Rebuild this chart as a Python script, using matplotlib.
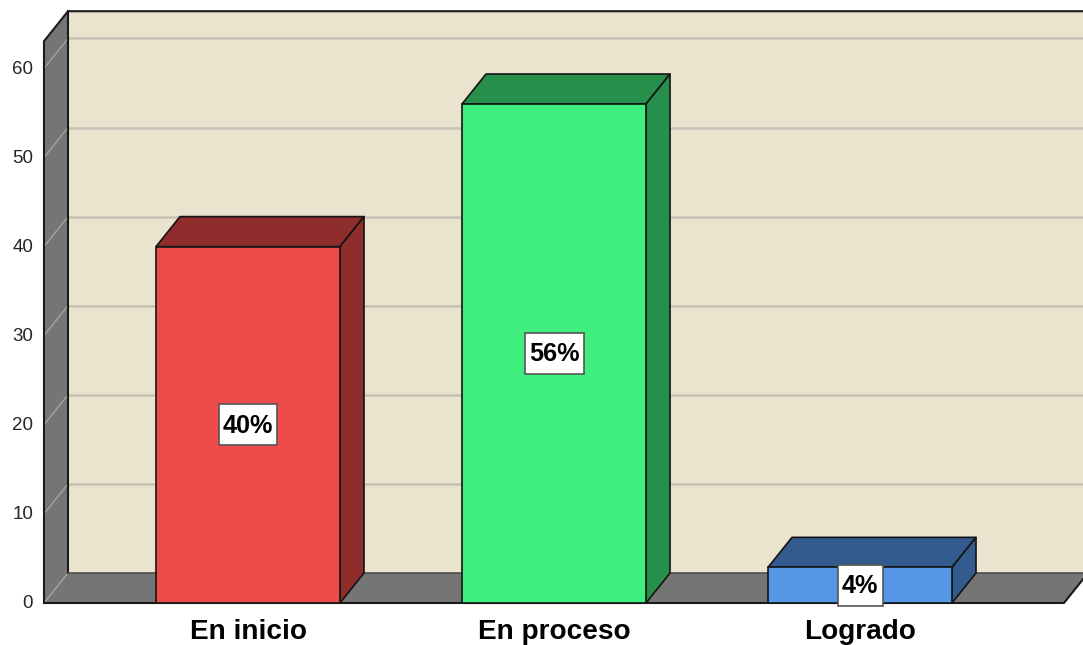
import matplotlib
matplotlib.use("Agg")
import matplotlib.pyplot as plt
from matplotlib.patches import Polygon, Rectangle

plt.rcParams['font.family'] = ['Liberation Sans', 'DejaVu Sans']

categorias = ["En inicio", "En proceso", "Logrado"]
valores = [40, 56, 4]
etiquetas = ["40%", "56%", "4%"]
caja_px = [58, 59, 45]  # label box widths
ticks = [0, 10, 20, 30, 40, 50, 60]

frente = ["#ee4b4b", "#40ee7e", "#5596e6"]
oscuro = ["#8f2c2c", "#268f4c", "#345b8d"]

# pixel scale of the original picture
W, H = 1083, 645
px_x = 306.0       # px per category
px_y = 8.91        # px per unit
x0_px, y0_px = 248.0, 603.0
dx = 24 / px_x     # depth of the 3d effect
dy = 30 / px_y
ancho = 184 / px_x

def X(px):
    return (px - x0_px) / px_x

fig = plt.figure(figsize=(W / 100, H / 100), dpi=100, facecolor="white")
ax = fig.add_axes([0, 0, 1, 1])
ax.set_xlim(X(0), X(W))
ax.set_ylim((y0_px - H) / px_y, y0_px / px_y)
ax.axis("off")

izq = X(44)
der = X(1064)
techo = 63.05   # top of the left wall

# back wall
ax.add_patch(Polygon([(izq + dx, dy), (izq + dx, techo + dy), (X(1090), techo + dy), (X(1090), dy)],
                     fc="#eae4cf", ec="none", zorder=1))
# gridlines
for t in ticks[1:]:
    ax.plot([izq + dx, X(1083)], [t + dy, t + dy], color="#c6c1b4", lw=1.8, zorder=2)

# left wall and floor
ax.add_patch(Polygon([(izq, 0), (izq, techo), (izq + dx, techo + dy), (izq + dx, dy)],
                     fc="#757575", ec="none", zorder=3))
ax.add_patch(Polygon([(izq, 0), (izq + dx, dy), (X(1090), dy), (der + dx, dy), (der, 0)],
                     fc="#757575", ec="none", zorder=3))
for t in ticks:
    ax.plot([izq, izq + dx], [t, t + dy], color="#a3a3a3", lw=1, zorder=4)

# frame lines
ax.plot([izq, izq, izq + dx, X(1083)], [0, techo, techo + dy, techo + dy], color="#1a1a1a", lw=1.5, zorder=5)
ax.plot([izq + dx, izq + dx], [techo + dy, dy], color="#1a1a1a", lw=1.5, zorder=5)
ax.plot([izq + dx, X(1083)], [dy, dy], color="#4d4d4d", lw=1.2, zorder=5)
ax.plot([izq, der, der + dx], [0, 0, dy], color="#1a1a1a", lw=1.5, zorder=5)

# bars
for i, v in enumerate(valores):
    a = i - ancho / 2
    b = i + ancho / 2
    ax.add_patch(Polygon([(a, v), (a + dx, v + dy), (b + dx, v + dy), (b, v)],
                         fc=oscuro[i], ec="#141414", lw=1.2, joinstyle="round", zorder=6))
    ax.add_patch(Polygon([(b, 0), (b + dx, dy), (b + dx, v + dy), (b, v)],
                         fc=oscuro[i], ec="#141414", lw=1.2, joinstyle="round", zorder=6))
    ax.add_patch(Polygon([(a, 0), (a, v), (b, v), (b, 0)],
                         fc=frente[i], ec="#141414", lw=1.2, joinstyle="round", zorder=7))
    # label box is taller than the text, so drawn apart
    cw = caja_px[i] / px_x
    ch = 41 / px_y
    ax.add_patch(Rectangle((i - cw / 2, v / 2 - ch / 2), cw, ch, fc="white", ec="#555555", lw=1.2, zorder=8))
    ax.text(i, v / 2 - 0.1, etiquetas[i], ha="center", va="center", fontsize=18.2, fontweight="bold",
            color="black", zorder=9)
    ax.text(i, -3.25, categorias[i], ha="center", va="center", fontsize=20.2, fontweight="bold",
            color="black", zorder=9)

for t in ticks:
    ax.text(X(33), t - 0.1, str(t), ha="right", va="center", fontsize=13.5, color="#262626", zorder=9)

fig.savefig("out.png", dpi=100, facecolor="white")
